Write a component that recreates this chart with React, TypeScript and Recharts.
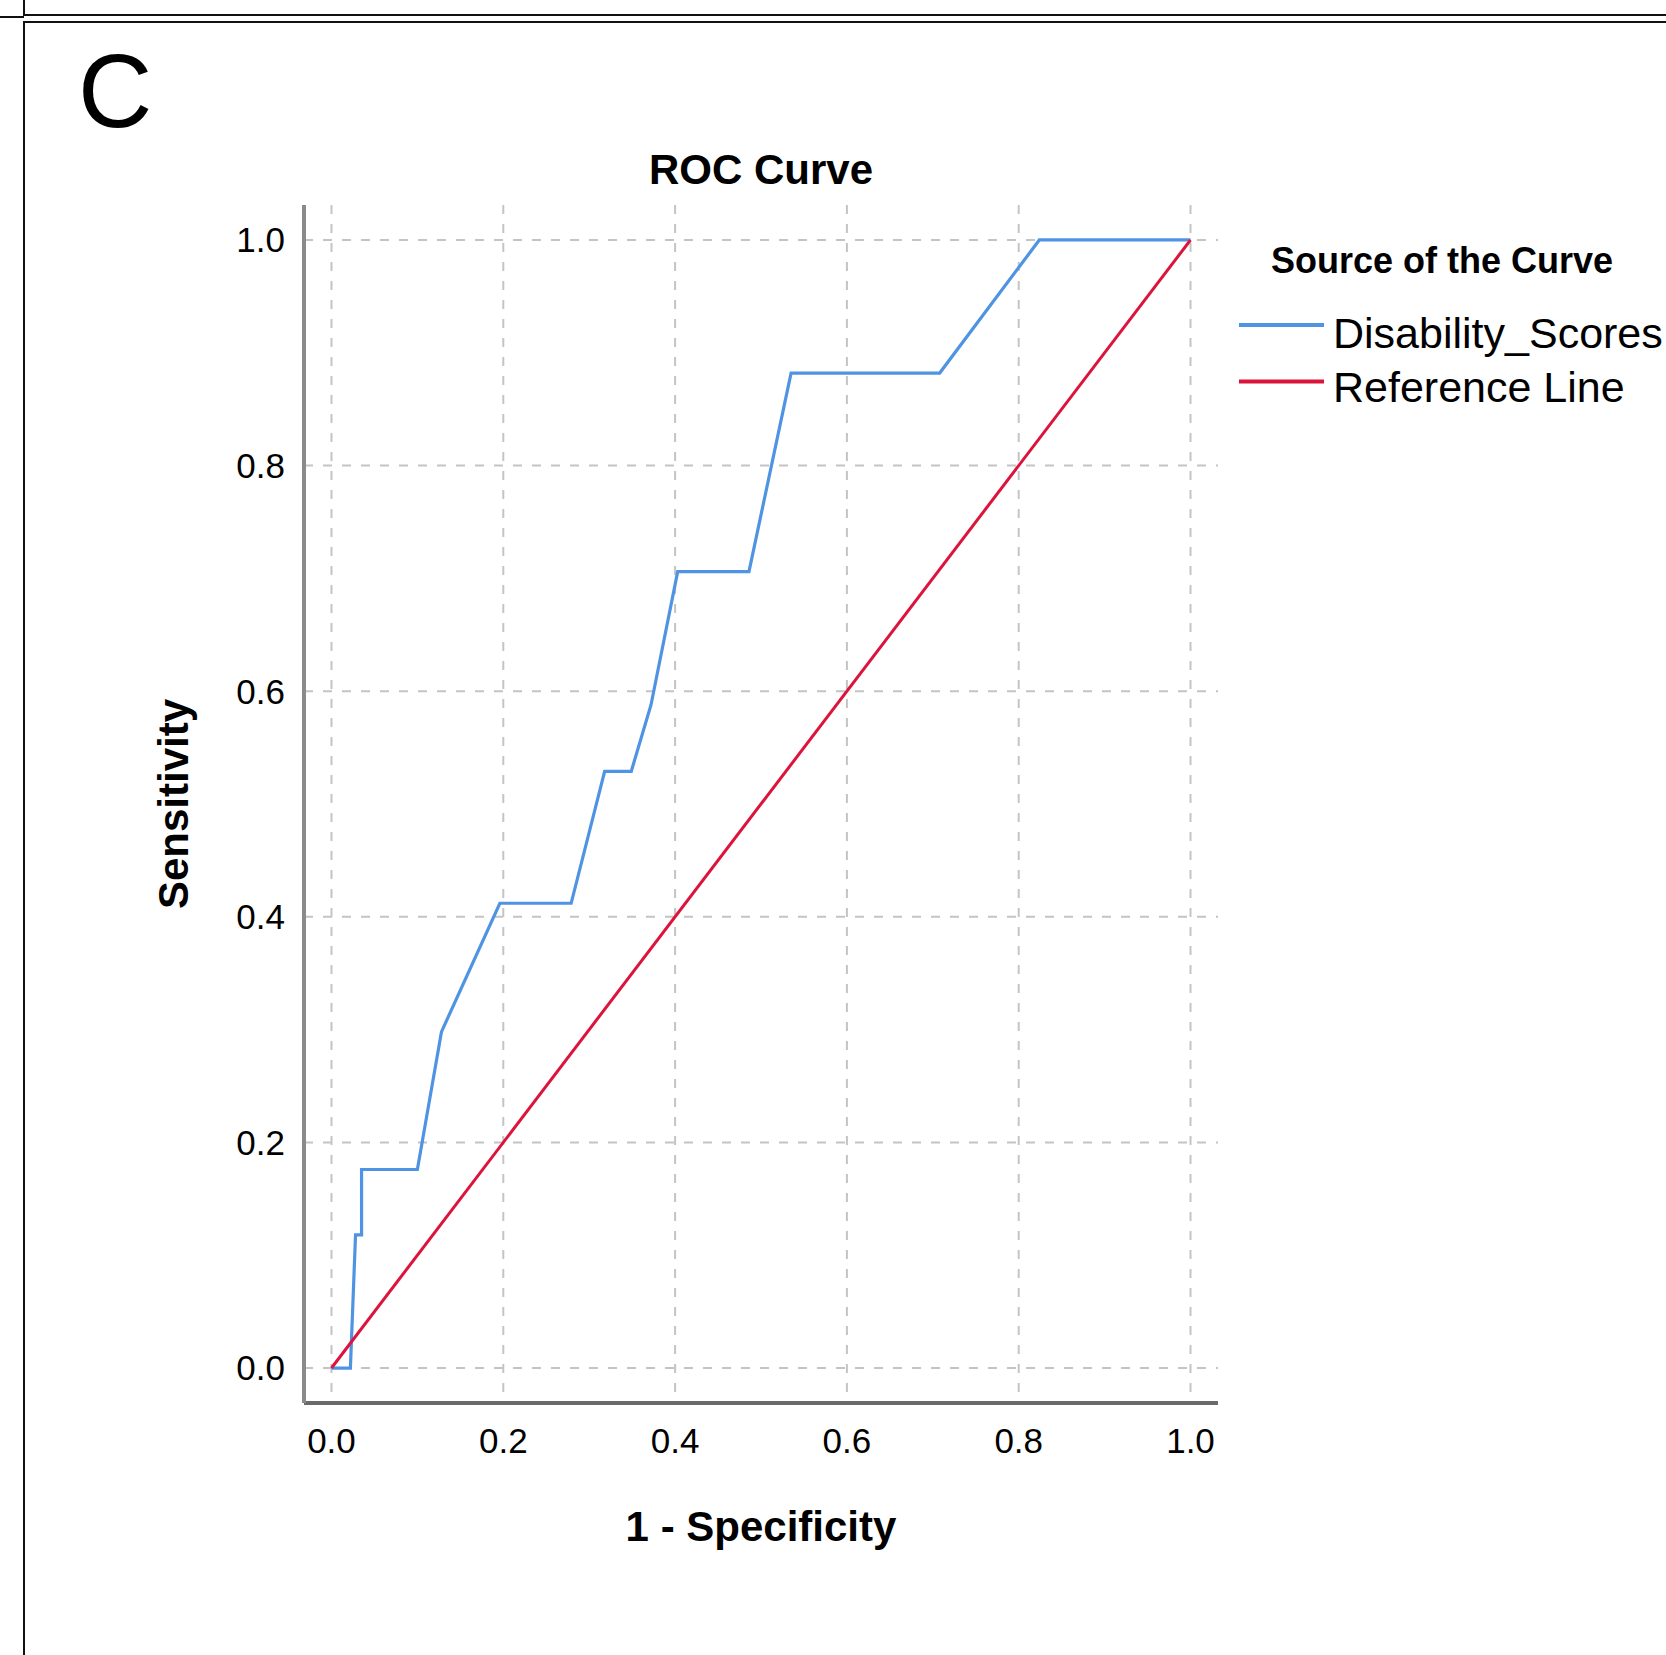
import React from 'react'
import { LineChart, Line, XAxis, YAxis, CartesianGrid, Legend, Label } from 'recharts'

// ROC curve (1 - specificity vs sensitivity)
const fprDisability = [0, 0.022, 0.028, 0.035, 0.035, 0.1, 0.128, 0.196, 0.279, 0.318, 0.349, 0.372, 0.403, 0.486, 0.535, 0.708, 0.824, 1.0]
const tprDisability = [0, 0, 0.118, 0.118, 0.176, 0.176, 0.298, 0.412, 0.412, 0.529, 0.529, 0.588, 0.706, 0.706, 0.882, 0.882, 1.0, 1.0]

const fprReference = [0, 1]
const tprReference = [0, 1]

const axisTicks = [0, 0.2, 0.4, 0.6, 0.8, 1.0]
const seriesNames = ['Disability_Scores', 'Reference Line']
const seriesColors = ['#4f93e3', '#dc143c']

const FONT = '"Liberation Sans", Arial, sans-serif'
const W = 1666
const H = 1655

const disabilityData = fprDisability.map((x, i) => ({ x, y: tprDisability[i] }))
const referenceData = fprReference.map((x, i) => ({ x, y: tprReference[i] }))

const renderLegend = (props: any) => {
  const { payload } = props
  return (
    <svg width={427} height={180} style={{ display: 'block' }}>
      <text x={32} y={35} fontSize={36} fontWeight="bold" fontFamily={FONT} fill="#000">
        Source of the Curve
      </text>
      {(payload || []).map((entry: any, i: number) => (
        <g key={entry.value}>
          <line x1={0} x2={85} y1={87 + i * 56.5} y2={87 + i * 56.5} stroke={entry.color} strokeWidth={4} />
          <text x={94} y={110 + i * 54} fontSize={43} fontFamily={FONT} fill="#000">
            {entry.value}
          </text>
        </g>
      ))}
    </svg>
  )
}

const XTitle = (props: any) => {
  const vb = props.viewBox
  return (
    <text x={vb.x + vb.width / 2} y={vb.y + 138} textAnchor="middle" fontSize={42} fontWeight="bold" fontFamily={FONT} fill="#000">
      1 - Specificity
    </text>
  )
}

const YTitle = (props: any) => {
  const vb = props.viewBox
  const cx = vb.x - 16
  const cy = vb.y + vb.height / 2
  return (
    <text x={cx} y={cy} transform={`rotate(-90, ${cx}, ${cy})`} textAnchor="middle" fontSize={42} fontWeight="bold" fontFamily={FONT} fill="#000">
      Sensitivity
    </text>
  )
}

export default function App() {
  return (
    <div style={{ position: 'absolute', left: 0, top: 0, width: W, height: H, background: '#fff' }}>
      {/* page frame */}
      <div style={{ position: 'absolute', left: 24, top: 14, width: W - 24, height: 2, background: '#111' }} />
      <div style={{ position: 'absolute', left: 24, top: 21, width: W - 24, height: 2, background: '#111' }} />
      <div style={{ position: 'absolute', left: 0, top: 16, width: 24, height: 2, background: '#111' }} />
      <div style={{ position: 'absolute', left: 23, top: 0, width: 2, height: 16, background: '#111' }} />
      <div style={{ position: 'absolute', left: 23, top: 21, width: 2, height: H - 21, background: '#111' }} />

      <svg width={W} height={H} style={{ position: 'absolute', left: 0, top: 0 }}>
        <text x={78} y={127} fontSize={103} fontFamily={FONT} fill="#000">C</text>
        <text x={761} y={184} fontSize={42} fontWeight="bold" fontFamily={FONT} fill="#000" textAnchor="middle">ROC Curve</text>
      </svg>

      <div style={{ position: 'absolute', left: 0, top: 0 }}>
        <LineChart width={W} height={H} margin={{ top: 205, right: 448, bottom: 152, left: 204 }}>
          <CartesianGrid stroke="#c4c4c4" strokeWidth={2} strokeDasharray="9 10" syncWithTicks />
          <XAxis
            type="number"
            dataKey="x"
            domain={[-0.032, 1.032]}
            ticks={axisTicks}
            tickFormatter={(v: number) => v.toFixed(1)}
            height={100}
            axisLine={{ stroke: '#6a6a6a', strokeWidth: 4 }}
            tickLine={false}
            tickSize={0}
            tickMargin={25}
            tick={{ fill: '#000', fontSize: 35, fontFamily: FONT }}
            allowDataOverflow
          >
            <Label content={XTitle} />
          </XAxis>
          <YAxis
            type="number"
            dataKey="y"
            domain={[-0.031, 1.031]}
            ticks={axisTicks}
            tickFormatter={(v: number) => v.toFixed(1)}
            width={100}
            axisLine={{ stroke: '#8a8a8a', strokeWidth: 4 }}
            tickLine={false}
            tickSize={0}
            tickMargin={19}
            tick={{ fill: '#000', fontSize: 35, fontFamily: FONT }}
            allowDataOverflow
          >
            <Label content={YTitle} />
          </YAxis>
          <Legend
            layout="horizontal"
            verticalAlign="middle"
            align="center"
            content={renderLegend}
            wrapperStyle={{ left: 1239, top: 238, width: 427, height: 180 }}
          />
          <Line
            data={disabilityData}
            dataKey="y"
            name={seriesNames[0]}
            type="linear"
            stroke={seriesColors[0]}
            strokeWidth={3.2}
            dot={false}
            activeDot={false}
            isAnimationActive={false}
          />
          <Line
            data={referenceData}
            dataKey="y"
            name={seriesNames[1]}
            type="linear"
            stroke={seriesColors[1]}
            strokeWidth={3}
            dot={false}
            activeDot={false}
            isAnimationActive={false}
          />
        </LineChart>
      </div>
    </div>
  )
}
